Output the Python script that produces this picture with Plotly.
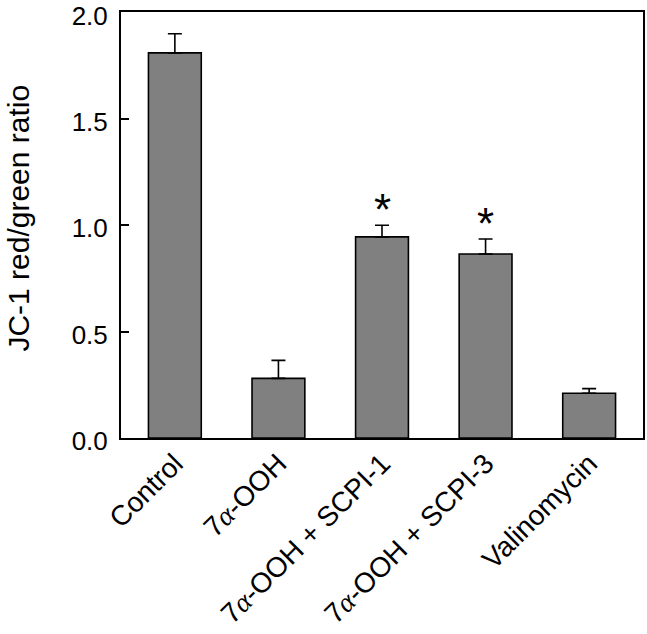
import plotly.graph_objects as go

ALPHA = "<span style='font-family:Liberation Serif'><i>α</i></span>"
categories = ["Control", "7" + ALPHA + "-OOH",
              "7" + ALPHA + "-OOH + SCPI-1",
              "7" + ALPHA + "-OOH + SCPI-3",
              "Valinomycin"]
values = [1.81, 0.28, 0.945, 0.865, 0.21]
errors = [0.09, 0.085, 0.055, 0.07, 0.022]
marks = ["", "", "*", "*", ""]
y_ticks = [0.0, 0.5, 1.0, 1.5, 2.0]
y_tick_labels = ["0.0", "0.5", "1.0", "1.5", "2.0"]

FONT = "Liberation Sans, Arial, sans-serif"
x_idx = list(range(len(categories)))

W, H = 647, 634
ML, MT, MR = 121, 12, 4
MB = 196
PW = W - ML - MR

fig = go.Figure()
fig.add_trace(go.Bar(
    x=x_idx, y=values,
    marker=dict(color="#808080", line=dict(color="black", width=1.6)),
    error_y=dict(type="data", array=errors, arrayminus=[0]*len(errors),
                 symmetric=False, color="black", thickness=1.6, width=7),
    width=0.51,
))

for i, (v, e, m) in enumerate(zip(values, errors, marks)):
    if m:
        fig.add_annotation(x=i, y=v + e + 0.1, text=m, showarrow=False,
                           font=dict(family=FONT, size=44, color="black"),
                           xanchor="center", yanchor="middle", yshift=-6)

fig.add_annotation(xref="paper", yref="paper", x=(19 - ML) / PW, y=0.515,
                   text="JC-1 red/green ratio", textangle=-90, showarrow=False,
                   font=dict(family=FONT, size=30, color="black"),
                   xanchor="center", yanchor="middle")

fig.update_layout(
    width=W, height=H,
    margin=dict(l=ML, r=MR, t=MT, b=MB, autoexpand=False),
    paper_bgcolor="white", plot_bgcolor="white",
    showlegend=False,
    font=dict(family=FONT, color="black"),
    xaxis=dict(range=[-0.52, 4.52], tickmode="array", tickvals=x_idx,
               ticktext=categories, tickangle=-45, ticks="", automargin=False,
               showline=True, linecolor="black", linewidth=2, mirror=True,
               showgrid=False, zeroline=False, ticklabelstandoff=-4,
               tickfont=dict(family=FONT, size=28, color="black")),
    yaxis=dict(range=[0, 2.002], tickmode="array", tickvals=y_ticks,
               ticktext=y_tick_labels, ticks="inside", ticklen=8, tickwidth=1.6,
               tickcolor="black", automargin=False, ticklabeloverflow="allow",
               ticklabelstandoff=6, ticklabelshift=3,
               showline=True, linecolor="black", linewidth=2, mirror=True,
               showgrid=False, zeroline=False,
               tickfont=dict(family=FONT, size=26, color="black")),
)

fig.write_html("out.html", config={"displayModeBar": False},
               post_script="document.body.style.margin='0px';document.body.style.overflow='hidden';")
